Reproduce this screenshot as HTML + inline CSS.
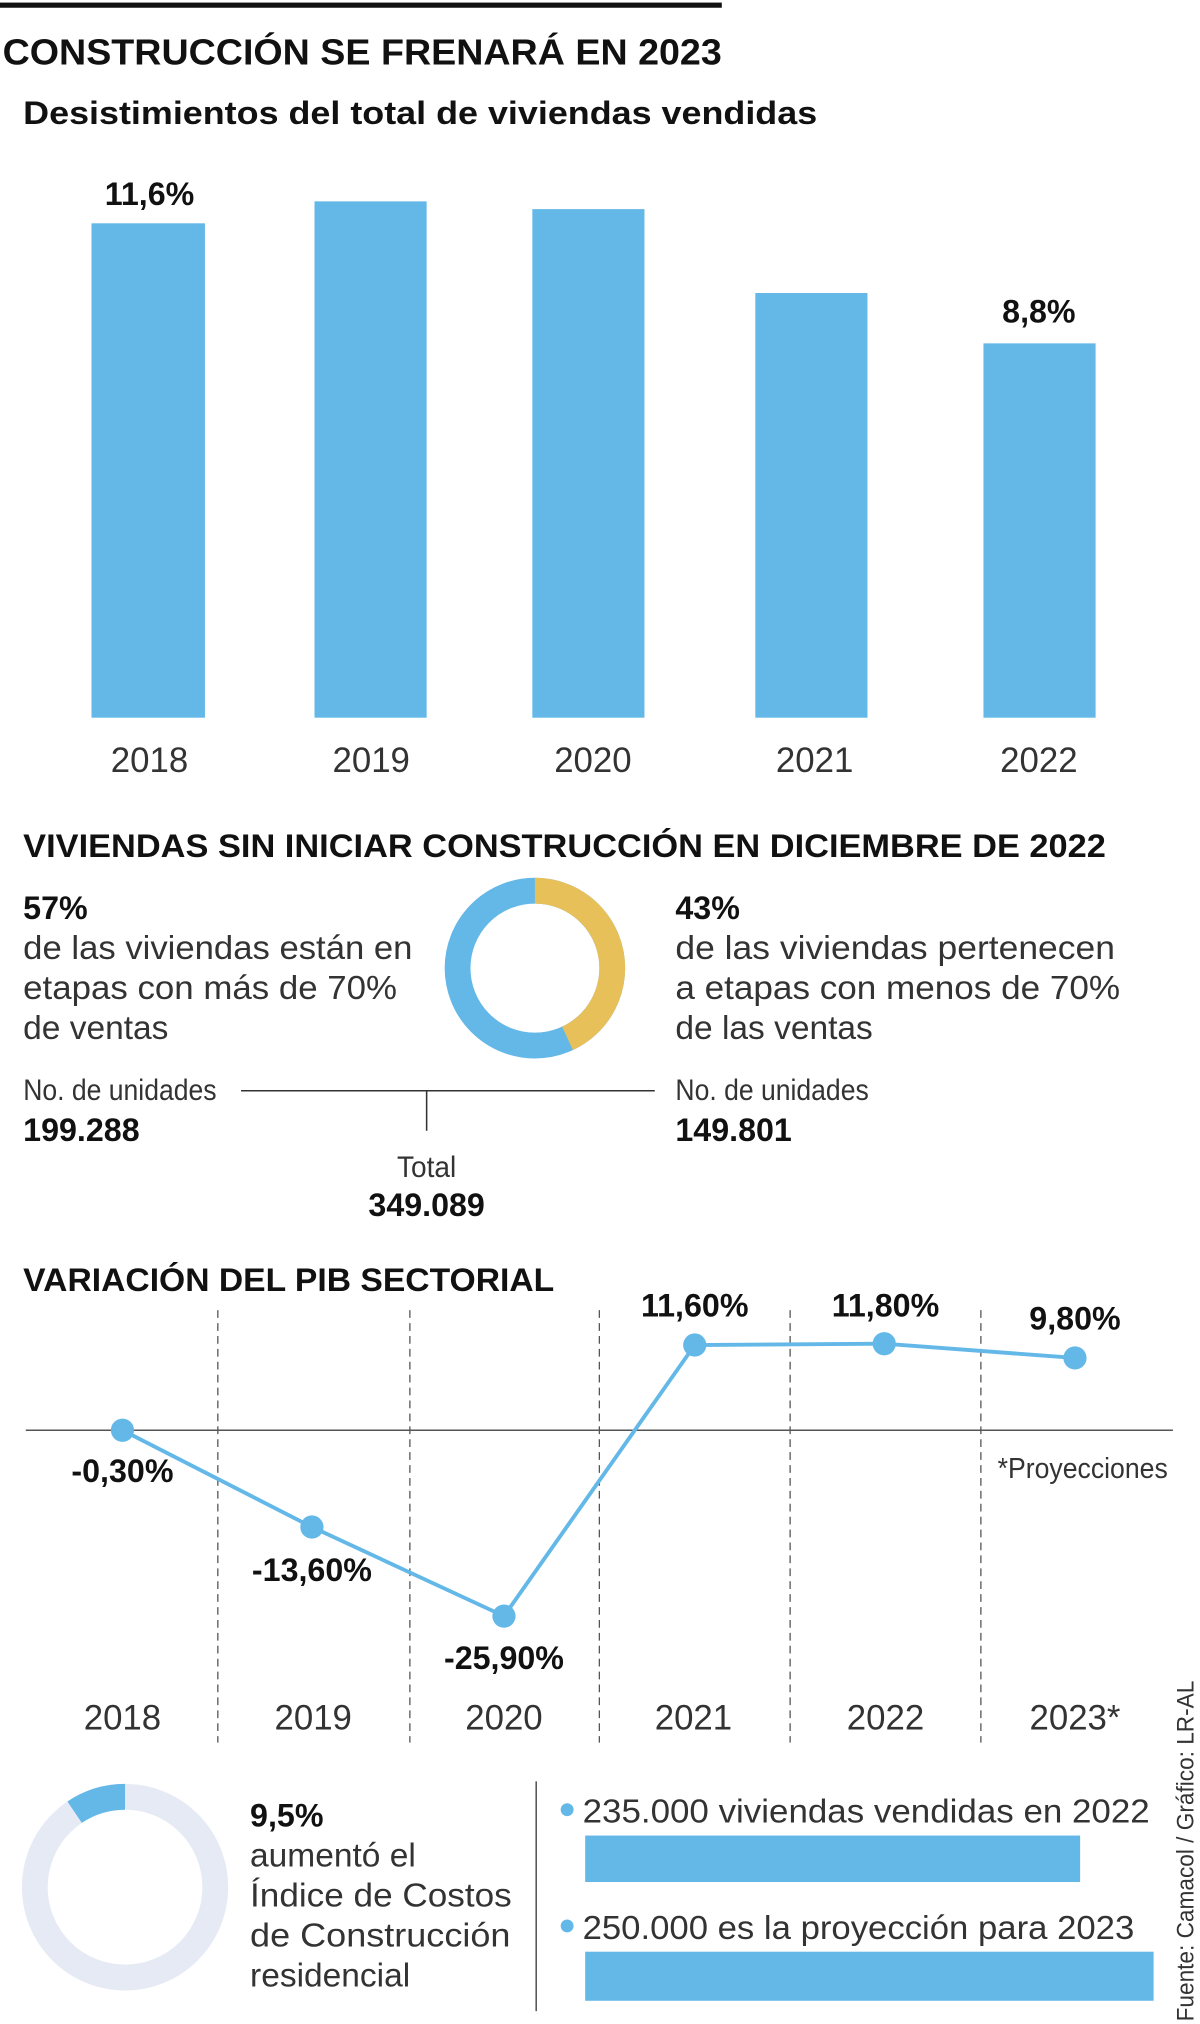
<!DOCTYPE html>
<html><head><meta charset="utf-8"><style>
html,body{margin:0;padding:0;background:#fff}
svg{display:block}
text{font-family:"Liberation Sans",sans-serif;fill:#222}
.b{font-weight:bold;fill:#111}
.l{fill:#333}
</style></head><body>
<svg width="1200" height="2024" viewBox="0 0 931 1568" preserveAspectRatio="none" xmlns="http://www.w3.org/2000/svg">
<rect x="0" y="2" width="560" height="4" fill="#111"/>
<text x="2" y="50" class="b" font-size="28" textLength="558" lengthAdjust="spacingAndGlyphs">CONSTRUCCIÓN SE FRENARÁ EN 2023</text>
<text x="18" y="96" class="b" font-size="25" textLength="616" lengthAdjust="spacingAndGlyphs">Desistimientos del total de viviendas vendidas</text>
<g fill="#63b8e8">
<rect x="71" y="173" width="88" height="383"/>
<rect x="244" y="156" width="87" height="400"/>
<rect x="413" y="162" width="87" height="394"/>
<rect x="586" y="227" width="87" height="329"/>
<rect x="763" y="266" width="87" height="290"/>
</g>
<text x="116" y="159" class="b" font-size="25" text-anchor="middle">11,6%</text>
<text x="806" y="250" class="b" font-size="25" text-anchor="middle">8,8%</text>
<g class="l" font-size="27" text-anchor="middle">
<text x="116" y="598" class="l">2018</text><text x="288" y="598" class="l">2019</text><text x="460" y="598" class="l">2020</text><text x="632" y="598" class="l">2021</text><text x="806" y="598" class="l">2022</text>
</g>
<text x="18" y="664" class="b" font-size="25" textLength="840" lengthAdjust="spacingAndGlyphs">VIVIENDAS SIN INICIAR CONSTRUCCIÓN EN DICIEMBRE DE 2022</text>
<text x="18" y="712" class="b" font-size="25">57%</text>
<g font-size="26">
<text x="18" y="743" class="l" textLength="302" lengthAdjust="spacingAndGlyphs">de las viviendas están en</text>
<text x="18" y="774" class="l" textLength="290" lengthAdjust="spacingAndGlyphs">etapas con más de 70%</text>
<text x="18" y="805" class="l">de ventas</text>
<text x="524" y="743" class="l" textLength="341" lengthAdjust="spacingAndGlyphs">de las viviendas pertenecen</text>
<text x="524" y="774" class="l" textLength="345" lengthAdjust="spacingAndGlyphs">a etapas con menos de 70%</text>
<text x="524" y="805" class="l">de las ventas</text>
</g>
<text x="524" y="712" class="b" font-size="25">43%</text>
<!-- donut -->
<circle cx="415" cy="750" r="60" fill="none" stroke="#63b8e8" stroke-width="20"/>
<path d="M415 690 A60 60 0 0 1 440.3 804.4" fill="none" stroke="#e8c05a" stroke-width="20"/>
<text x="18" y="852" class="l" font-size="23" textLength="150" lengthAdjust="spacingAndGlyphs">No. de unidades</text>
<text x="18" y="884" class="b" font-size="25">199.288</text>
<text x="524" y="852" class="l" font-size="23" textLength="150" lengthAdjust="spacingAndGlyphs">No. de unidades</text>
<text x="524" y="884" class="b" font-size="25">149.801</text>
<line x1="187" y1="845" x2="508" y2="845" stroke="#333" stroke-width="1.2"/>
<line x1="331" y1="845" x2="331" y2="876" stroke="#333" stroke-width="1.2"/>
<text x="331" y="912" class="l" font-size="23" text-anchor="middle" textLength="46" lengthAdjust="spacingAndGlyphs">Total</text>
<text x="331" y="942" class="b" font-size="25" text-anchor="middle">349.089</text>
<text x="18" y="1000" class="b" font-size="25" textLength="412" lengthAdjust="spacingAndGlyphs">VARIACIÓN DEL PIB SECTORIAL</text>
<g stroke="#555" stroke-width="1" stroke-dasharray="6,4">
<line x1="169" y1="1015" x2="169" y2="1350"/><line x1="318" y1="1015" x2="318" y2="1350"/><line x1="465" y1="1015" x2="465" y2="1350"/><line x1="613" y1="1015" x2="613" y2="1350"/><line x1="761" y1="1015" x2="761" y2="1350"/>
</g>
<line x1="20" y1="1108" x2="910" y2="1108" stroke="#555" stroke-width="1.2"/>
<polyline points="95,1108 242,1183 391,1252 539,1042 686,1041 834,1052" fill="none" stroke="#63b8e8" stroke-width="3"/>
<g fill="#63b8e8">
<circle cx="95" cy="1108" r="9"/><circle cx="242" cy="1183" r="9"/><circle cx="391" cy="1252" r="9"/><circle cx="539" cy="1042" r="9"/><circle cx="686" cy="1041" r="9"/><circle cx="834" cy="1052" r="9"/>
</g>
<g font-size="25" text-anchor="middle">
<text x="95" y="1148" class="b">-0,30%</text>
<text x="242" y="1225" class="b">-13,60%</text>
<text x="391" y="1293" class="b">-25,90%</text>
<text x="539" y="1020" class="b">11,60%</text>
<text x="687" y="1020" class="b">11,80%</text>
<text x="834" y="1030" class="b">9,80%</text>
</g>
<text x="906" y="1145" class="l" font-size="22" text-anchor="end" textLength="132" lengthAdjust="spacingAndGlyphs">*Proyecciones</text>
<g font-size="27" text-anchor="middle">
<text x="95" y="1340" class="l">2018</text><text x="243" y="1340" class="l">2019</text><text x="391" y="1340" class="l">2020</text><text x="538" y="1340" class="l">2021</text><text x="687" y="1340" class="l">2022</text><text x="834" y="1340" class="l">2023*</text>
</g>
<circle cx="97" cy="1462" r="70" fill="none" stroke="#e6eaf5" stroke-width="20"/>
<path d="M97 1392 A70 70 0 0 0 57.9 1403.9" fill="none" stroke="#63b8e8" stroke-width="20"/>
<text x="194" y="1415" class="b" font-size="25">9,5%</text>
<g font-size="26">
<text x="194" y="1446" class="l">aumentó el</text>
<text x="194" y="1477" class="l" textLength="203" lengthAdjust="spacingAndGlyphs">Índice de Costos</text>
<text x="194" y="1508" class="l" textLength="202" lengthAdjust="spacingAndGlyphs">de Construcción</text>
<text x="194" y="1539" class="l">residencial</text>
</g>
<line x1="416" y1="1380" x2="416" y2="1558" stroke="#555" stroke-width="1.2"/>
<circle cx="440" cy="1402" r="5" fill="#63b8e8"/>
<text x="452" y="1412" class="l" font-size="26" textLength="440" lengthAdjust="spacingAndGlyphs">235.000 viviendas vendidas en 2022</text>
<rect x="454" y="1422" width="384" height="36" fill="#63b8e8"/>
<circle cx="440" cy="1492" r="5" fill="#63b8e8"/>
<text x="452" y="1502" class="l" font-size="26" textLength="428" lengthAdjust="spacingAndGlyphs">250.000 es la proyección para 2023</text>
<rect x="454" y="1512" width="441" height="38" fill="#63b8e8"/>
<text transform="translate(926,1566) rotate(-90)" class="l" font-size="19" textLength="264" lengthAdjust="spacingAndGlyphs">Fuente: Camacol / Gráfico: LR-AL</text>
</svg>
</body></html>
